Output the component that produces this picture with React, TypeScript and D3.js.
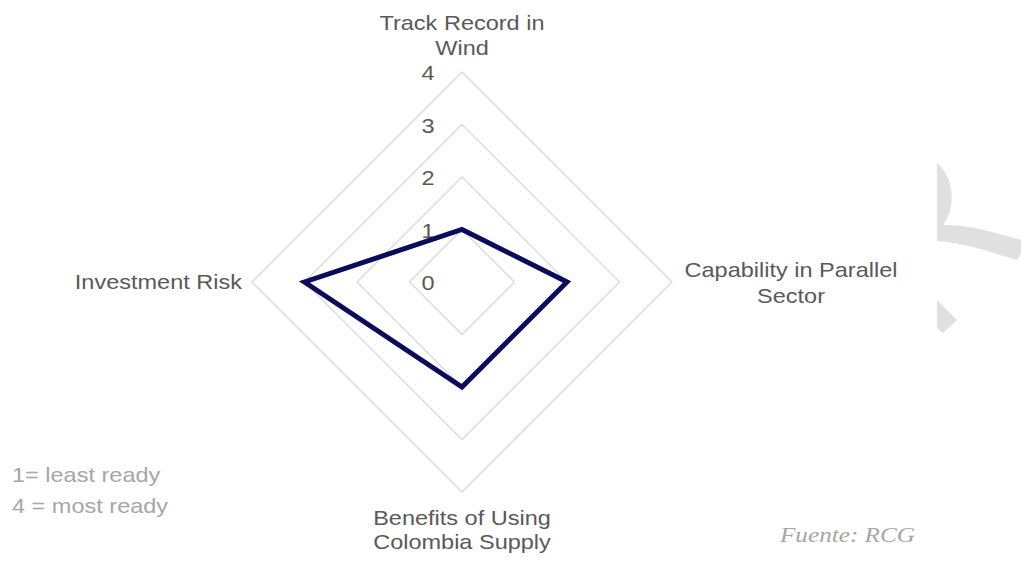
import React from 'react'
import * as d3 from 'd3'

// axes go clockwise from the top
const axes = ['Track Record in\nWind', 'Capability in Parallel\nSector', 'Benefits of Using\nColombia Supply', 'Investment Risk']
const scores = [1, 2, 2, 3]
const ticks = [0, 1, 2, 3, 4]
const notes = ['1= least ready', '4 = most ready']
const source = 'Fuente: RCG'

const W = 1021
const H = 561
const cx = 462
const cy = 282
const SX = 1.12 // the original text is a bit stretched sideways

function App() {
  const r = d3.scaleLinear().domain([0, 4]).range([0, 210])
  const angle = (i: number) => (i / axes.length) * 2 * Math.PI

  const radial = d3
    .lineRadial<number>()
    .angle((d, i) => angle(i))
    .radius((d) => r(d))
    .curve(d3.curveLinearClosed)

  const ring = (v: number) => radial(axes.map(() => v)) || ''

  const label = (text: string, x: number, y: number, anchor: string, key: number, gap = 25) => {
    const lines = text.split('\n')
    return (
      <text key={key} transform={`translate(${x},${y}) scale(${SX},1)`} textAnchor={anchor} fontSize={21} fill="#595959">
        {lines.map((l, j) => (
          <tspan key={j} x={0} dy={j === 0 ? 0 : gap}>{l}</tspan>
        ))}
      </text>
    )
  }

  return (
    <svg width={W} height={H} style={{ position: 'fixed', left: 0, top: 0, background: '#fff' }}
      fontFamily="'Liberation Sans', Arial, sans-serif">
      {/* watermark shapes at right */}
      <g fill="#e0e0e0">
        <path d="M937,163 C952,175 958,205 943,225 C965,224 990,231 1021,240 L1021,253 L1017,260 C990,252 965,243 937,241 Z" />
        <path d="M937,300 L957,320 L943,333 L937,328 Z" />
      </g>

      <g transform={`translate(${cx},${cy})`}>
        {ticks.slice(1).map((t) => (
          <path key={t} d={ring(t)} fill="none" stroke="#d9d9d9" strokeWidth={1.3} />
        ))}
        {ticks.map((t) => (
          <text key={t} transform={`translate(-34,${-r(t) + 8}) scale(${SX},1)`} textAnchor="middle" fontSize={21} fill="#595959">{t}</text>
        ))}
        <path d={radial(scores) || ''} fill="none" stroke="#0b0b5c" strokeWidth={5} strokeLinejoin="miter" />
      </g>

      {label(axes[0], cx, 30, 'middle', 0)}
      {label(axes[1], 791, 277, 'middle', 1, 26)}
      {label(axes[2], cx, 525, 'middle', 2, 24)}
      {label(axes[3], 242, 289, 'end', 3)}

      {notes.map((n, i) => (
        <text key={n} transform={`translate(12,${482 + i * 31}) scale(${SX},1)`} fontSize={21} fill="#a6a6a6">{n}</text>
      ))}
      <text transform={`translate(915,542) scale(1.2,1)`} textAnchor="end" fontSize={21} fontStyle="italic" fill="#a6a6a6"
        fontFamily="'Liberation Serif', 'DejaVu Serif', serif">{source}</text>
    </svg>
  )
}

export default App
